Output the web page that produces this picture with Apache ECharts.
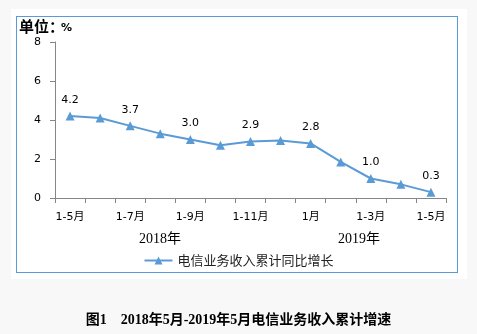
<!DOCTYPE html>
<html><head><meta charset="utf-8">
<script src="https://cdn.jsdelivr.net/npm/echarts@6/dist/echarts.min.js"></script>
<style>
html,body{margin:0;padding:0;background:#f8f8f8;}
#wbox{position:absolute;left:11px;top:9px;width:456px;height:270px;background:#fff;}
#bbox{position:absolute;left:16px;top:16px;width:440px;height:255px;border:1px solid #5b9bd5;}
#chart{position:absolute;left:0;top:0;width:477px;height:334px;}
</style></head>
<body>
<div id="wbox"></div><div id="bbox"></div>
<div id="chart"></div>
<script>
var categories = ['1-5月','1-6月','1-7月','1-8月','1-9月','1-10月','1-11月','1-12月','1月','1-2月','1-3月','1-4月','1-5月'];
var growth = [4.2, 4.1, 3.7, 3.3, 3.0, 2.7, 2.9, 2.95, 2.8, 1.85, 1.0, 0.7, 0.3];
var labeledIdx = [0, 2, 4, 6, 8, 10, 12];
var yTicks = [0, 2, 4, 6, 8];
var seriesName = '电信业务收入累计同比增长';
var unitLabel = '单位：';
var unitSymbol = '%';
var yearLabels = ['2018年', '2019年'];
var caption = '图1　2018年5月-2019年5月电信业务收入累计增速';

var sans = "'DejaVu Sans','Noto Sans CJK SC',sans-serif";
var serif = "'Liberation Serif','Noto Sans CJK SC',serif";

var chart = echarts.init(document.getElementById('chart'), null, {renderer:'canvas'});
var dataItems = growth.map(function(v, i){
  return {value: v, label: {show: labeledIdx.indexOf(i) >= 0}};
});
chart.setOption({
  backgroundColor: 'transparent',
  animation: false,
  grid: {left: 55, right: 31, top: 42, bottom: 136},
  title: [{
    text: caption, left: 'center', top: 308,
    textStyle: {fontFamily: serif, fontSize: 14, fontWeight: 'bold', color: '#000'}
  }],
  graphic: [
    {type:'text', left: 19, top: 19, style:{text: unitLabel, font: "bold 15px 'Noto Sans CJK SC',sans-serif", fill:'#000'}},
    {type:'text', left: 61, top: 23, style:{text: unitSymbol, font: "bold 11px 'DejaVu Sans',sans-serif", fill:'#000'}},
    {type:'text', left: 139, top: 232, style:{text: yearLabels[0], font: "14px 'Liberation Serif','Noto Sans CJK SC',serif", fill:'#000'}},
    {type:'text', left: 338, top: 232, style:{text: yearLabels[1], font: "14px 'Liberation Serif','Noto Sans CJK SC',serif", fill:'#000'}}
  ],
  legend: {
    data: [seriesName], left: 'center', top: 249,
    itemWidth: 28, itemHeight: 10, itemGap: 4,
    textStyle: {fontFamily: "'Noto Sans CJK SC',sans-serif", fontSize: 13, color: '#222'}
  },
  xAxis: {
    type: 'category', data: categories, boundaryGap: true,
    axisLine: {lineStyle: {color: '#868686', width: 1}},
    axisTick: {show: true, interval: 0, length: 5, lineStyle: {color: '#868686'}},
    axisLabel: {interval: 1, margin: 14, color: '#000', fontFamily: sans, fontSize: 11}
  },
  yAxis: {
    type: 'value', min: yTicks[0], max: yTicks[yTicks.length-1], interval: 2,
    axisLine: {show: true, lineStyle: {color: '#868686', width: 1}},
    axisTick: {show: true, length: 5, lineStyle: {color: '#868686'}},
    splitLine: {show: false},
    axisLabel: {margin: 14, color: '#000', fontFamily: sans, fontSize: 11}
  },
  series: [{
    name: seriesName, type: 'line', data: dataItems,
    symbol: 'triangle', symbolSize: 9,
    lineStyle: {color: '#5b9bd5', width: 2},
    itemStyle: {color: '#5b9bd5'},
    label: {position: 'top', distance: 6, color: '#000', fontFamily: sans, fontSize: 11,
      formatter: function(p){ return p.value.toFixed(1); }}
  }]
});
</script>
</body></html>
